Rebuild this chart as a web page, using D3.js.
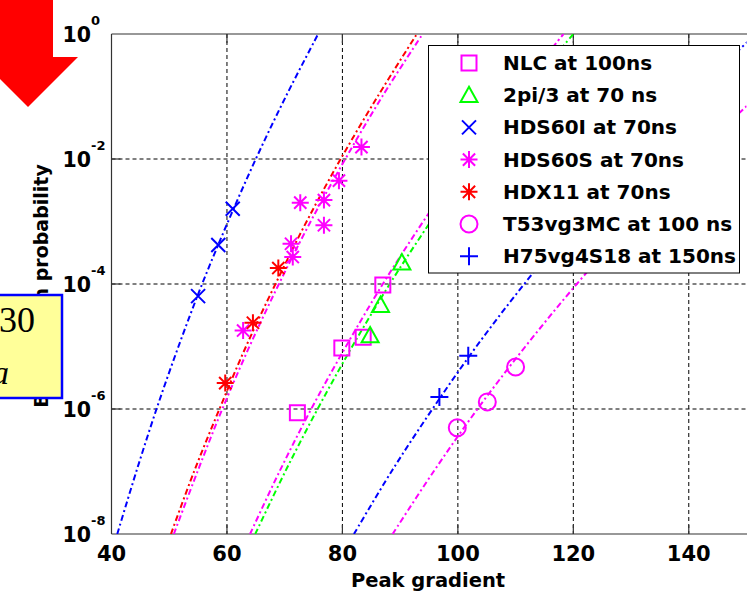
<!DOCTYPE html>
<html><head><meta charset="utf-8">
<script src="https://cdn.jsdelivr.net/npm/d3@7"></script>
<style>body{margin:0;background:#fff;} svg{display:block;}</style>
</head><body>
<svg id="c" width="747" height="594"></svg>
<script>
// ---------- data ----------
const xTicks = [40, 60, 80, 100, 120, 140];
const yTickExps = [0, -2, -4, -6, -8];
const xGrid = [60, 80, 100, 120, 140];
const yGridExps = [-2, -4, -6];
// fit-line readings: x (peak gradient) at each probability level 1e-8 ... 1e0
const fitLevels = [1e-8, 1e-7, 1e-6, 1e-5, 1e-4, 1e-3, 1e-2, 1e-1, 1e0];

const nlcX = [72.2, 79.9, 83.6, 87.0];
const nlcY = [8.7e-7, 9.5e-6, 1.4e-5, 9.6e-5];
const nlcFit = [64.0, 69.1, 74.6, 80.6, 87.0, 94.0, 101.5, 109.6, 118.3];

const tpiX = [84.8, 86.6, 90.3];
const tpiY = [1.5e-5, 4.6e-5, 2.2e-4];
const tpiFit = [64.9, 70.1, 75.7, 81.7, 88.2, 95.3, 102.9, 111.1, 120.0];

const hdsLX = [55.0, 58.5, 61.0];
const hdsLY = [6.4e-5, 4.2e-4, 1.6e-3];
const hdsLFit = [41.0, 44.3, 47.8, 51.6, 55.7, 60.2, 65.0, 70.2, 75.8];

const hdsSX = [62.8, 71.4, 71.1, 72.7, 76.8, 76.8, 79.4, 83.3];
const hdsSY = [1.8e-5, 2.7e-4, 4.4e-4, 2.0e-3, 8.7e-4, 2.2e-3, 4.5e-3, 1.55e-2];
const hdsSFit = [50.8, 54.9, 59.2, 63.9, 69.0, 74.5, 80.5, 86.9, 93.9];

const hdxX = [59.7, 64.5, 68.9];
const hdxY = [2.6e-6, 2.4e-5, 1.8e-4];
const hdxFit = [50.3, 54.3, 58.7, 63.3, 68.4, 73.8, 79.7, 86.1, 92.9];

const t53X = [99.9, 105.1, 110.0];
const t53Y = [5.0e-7, 1.3e-6, 4.7e-6];
const t53Fit = [88.7, 95.8, 103.4, 111.7, 120.6, 130.2, 140.6, 151.8, 164.0];

const h75X = [96.8, 101.8];
const h75Y = [1.55e-6, 7.1e-6];
const h75Fit = [82.0, 88.5, 95.6, 103.2, 111.5, 120.4, 130.0, 140.4, 151.6];

const seriesNames = ["NLC at 100ns", "2pi/3 at 70 ns", "HDS60I at 70ns", "HDS60S at 70ns",
  "HDX11 at 70ns", "T53vg3MC at 100 ns", "H75vg4S18 at 150ns"];
const seriesColors = ["#ff00ff", "#00ff00", "#0000ff", "#ff00ff", "#ff0000", "#ff00ff", "#0000ff"];
const seriesMarkers = ["square", "triangle", "x", "asterisk", "asterisk", "circle", "plus"];
const seriesXs = [nlcX, tpiX, hdsLX, hdsSX, hdxX, t53X, h75X];
const seriesYs = [nlcY, tpiY, hdsLY, hdsSY, hdxY, t53Y, h75Y];
const seriesFits = [nlcFit, tpiFit, hdsLFit, hdsSFit, hdxFit, t53Fit, h75Fit];

// ---------- layout ----------
const L = 111.5, R = 746.5, T = 34, B = 534;
const FONT = "'DejaVu Sans', sans-serif";
const svg = d3.select("#c");
const x = d3.scaleLinear().domain([40, 150]).range([L, R]);
const y = d3.scaleLog().domain([1e-8, 1]).range([B, T]);

svg.append("defs").append("clipPath").attr("id", "clip")
  .append("rect").attr("x", L).attr("y", T).attr("width", R - L).attr("height", B - T);

// grid
const g = svg.append("g");
g.selectAll(".vg").data(xGrid).enter().append("line")
  .attr("x1", d => x(d)).attr("x2", d => x(d)).attr("y1", T).attr("y2", B)
  .attr("stroke", "#000").attr("stroke-width", 1).attr("stroke-dasharray", "4,3");
g.selectAll(".hg").data(yGridExps).enter().append("line")
  .attr("x1", L).attr("x2", 747).attr("y1", d => y(Math.pow(10, d))).attr("y2", d => y(Math.pow(10, d)))
  .attr("stroke", "#000").attr("stroke-width", 1).attr("stroke-dasharray", "4,3");

// axes frame & ticks
const axc = "#333";
svg.append("line").attr("x1", L).attr("x2", L).attr("y1", T).attr("y2", B).attr("stroke", axc).attr("stroke-width", 1.2);
svg.append("line").attr("x1", L).attr("x2", 747).attr("y1", T).attr("y2", T).attr("stroke", axc).attr("stroke-width", 1.2);
svg.append("line").attr("x1", L).attr("x2", 747).attr("y1", B).attr("y2", B).attr("stroke", axc).attr("stroke-width", 1.2);
xGrid.forEach(v => {
  svg.append("line").attr("x1", x(v)).attr("x2", x(v)).attr("y1", B).attr("y2", B - 9).attr("stroke", axc).attr("stroke-width", 1.2);
  svg.append("line").attr("x1", x(v)).attr("x2", x(v)).attr("y1", T).attr("y2", T + 9).attr("stroke", axc).attr("stroke-width", 1.2);
});
yGridExps.forEach(e => {
  svg.append("line").attr("x1", L).attr("x2", L + 9).attr("y1", y(Math.pow(10, e))).attr("y2", y(Math.pow(10, e))).attr("stroke", axc).attr("stroke-width", 1.2);
});

// tick labels
svg.selectAll(".xt").data(xTicks).enter().append("text")
  .attr("x", d => x(d)).attr("y", 561).attr("text-anchor", "middle")
  .attr("font-family", FONT).attr("font-weight", "bold").attr("font-size", 21)
  .text(d => d);
yTickExps.forEach(e => {
  const yy = y(Math.pow(10, e));
  svg.append("text").attr("x", 91).attr("y", yy + 8).attr("text-anchor", "end")
    .attr("font-family", FONT).attr("font-weight", "bold").attr("font-size", 20.5).text("10");
  svg.append("text").attr("x", 91).attr("y", yy - 9).attr("text-anchor", "start")
    .attr("font-family", FONT).attr("font-weight", "bold").attr("font-size", 13).text(String(e));
});

// axis labels
svg.append("text").attr("x", 428).attr("y", 587).attr("text-anchor", "middle")
  .attr("font-family", FONT).attr("font-weight", "bold").attr("font-size", 19.5).text("Peak gradient");
svg.append("text").attr("transform", "translate(48,286) rotate(-90)").attr("text-anchor", "middle")
  .attr("font-family", FONT).attr("font-weight", "bold").attr("font-size", 19).text("Breakdown probability");

// fit lines
const lineGen = d3.line().x(d => x(d[0])).y(d => y(d[1])).curve(d3.curveCatmullRom);
const lg = svg.append("g").attr("clip-path", "url(#clip)");
seriesFits.forEach((f, i) => {
  lg.append("path").datum(f.map((v, k) => [v, fitLevels[k]]))
    .attr("d", lineGen).attr("fill", "none").attr("stroke", seriesColors[i])
    .attr("stroke-width", 2).attr("stroke-dasharray", "6,3,2,3");
});

// markers
function markerPath(type, s) {
  switch (type) {
    case "square": return `M${-s},${-s}H${s}V${s}H${-s}Z`;
    case "circle": return `M${s},0A${s},${s} 0 1,1 ${-s},0A${s},${s} 0 1,1 ${s},0Z`;
    case "triangle": return `M0,${-s}L${s},${s * 0.8}L${-s},${s * 0.8}Z`;
    case "x": return `M${-s},${-s}L${s},${s}M${-s},${s}L${s},${-s}`;
    case "plus": return `M${-s},0H${s}M0,${-s}V${s}`;
    case "asterisk": { const d = s * 0.72; return `M${-s},0H${s}M0,${-s}V${s}M${-d},${-d}L${d},${d}M${-d},${d}L${d},${-d}`; }
  }
}
const mSize = { square: 7.5, circle: 8.5, triangle: 8.5, x: 7, plus: 9, asterisk: 8.5 };
const mg = svg.append("g");
seriesXs.forEach((xs, i) => {
  xs.forEach((xv, k) => {
    mg.append("path").attr("transform", `translate(${x(xv)},${y(seriesYs[i][k])})`)
      .attr("d", markerPath(seriesMarkers[i], mSize[seriesMarkers[i]]))
      .attr("fill", "none").attr("stroke", seriesColors[i]).attr("stroke-width", 2);
  });
});

// legend
const leg = svg.append("g");
leg.append("rect").attr("x", 428.5).attr("y", 45.5).attr("width", 311).attr("height", 227.5)
  .attr("fill", "#fff").attr("stroke", "#000").attr("stroke-width", 1);
seriesNames.forEach((n, i) => {
  const cy = 63 + i * 32.2;
  leg.append("path").attr("transform", `translate(469,${cy})`)
    .attr("d", markerPath(seriesMarkers[i], mSize[seriesMarkers[i]]))
    .attr("fill", "none").attr("stroke", seriesColors[i]).attr("stroke-width", 2);
  leg.append("text").attr("x", 503).attr("y", cy + 7).attr("font-family", FONT)
    .attr("font-weight", "bold").attr("font-size", 20).text(n);
});

// slide decorations: red arrow and yellow box
svg.append("path").attr("d", "M0,0H53V57H78L28,107L-22,57H0Z").attr("fill", "#ff0000");
svg.append("rect").attr("x", -5).attr("y", 295).attr("width", 67).attr("height", 103)
  .attr("fill", "#ffff99").attr("stroke", "#0000ff").attr("stroke-width", 2.5);
svg.append("text").attr("x", 35).attr("y", 332).attr("text-anchor", "end")
  .attr("font-family", "'Liberation Serif', serif").attr("font-size", 36).text("30");
svg.append("text").attr("x", -8).attr("y", 384)
  .attr("font-family", "'Liberation Serif', serif").attr("font-style", "italic").attr("font-size", 34).text("a");
</script>
</body></html>
